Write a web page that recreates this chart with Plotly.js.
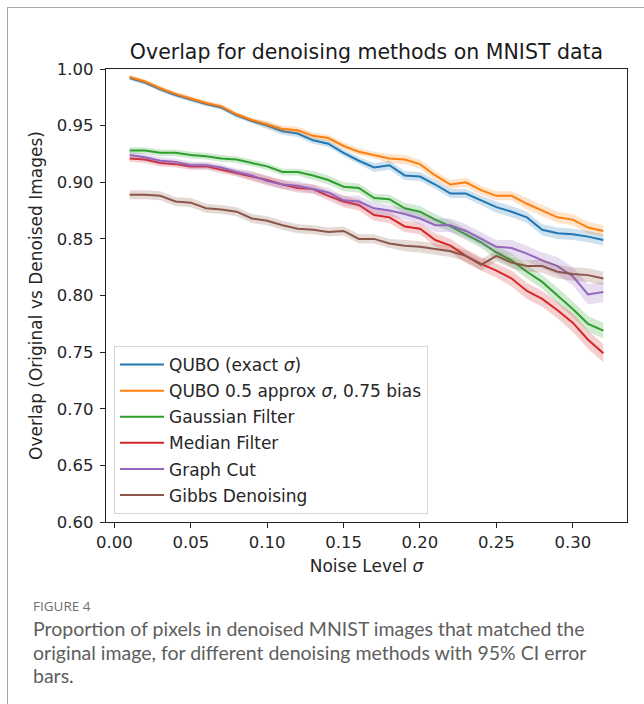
<!DOCTYPE html>
<html>
<head>
<meta charset="utf-8">
<script src="https://cdn.plot.ly/plotly-3.0.1.min.js"></script>
<style>
  html, body { margin: 0; padding: 0; background: #fff; width: 644px; height: 704px; overflow: hidden; }
  #card { position: absolute; left: 7px; top: 7px; width: 800px; height: 800px; border-left: 1.5px solid #a6a6a6; border-top: 1.5px solid #a6a6a6; }
  #chart { position: absolute; left: 0; top: 0; width: 644px; height: 704px; }
  #figlabel { position: absolute; left: 33px; top: 597px; font-family: "Open Sans", Lato, sans-serif; font-size: 13.5px; color: #6e6e6e; }
  #caption { position: absolute; left: 33px; top: 617px; width: 610px; font-family: Lato, "Open Sans", sans-serif; font-size: 19.5px; line-height: 23.5px; color: #5e5e5e; white-space: nowrap; }
</style>
</head>
<body>
<div id="card"></div>
<div id="chart"></div>
<div id="figlabel">FIGURE 4</div>
<div id="caption">Proportion of pixels in denoised MNIST images that matched the<br>original image, for different denoising methods with 95% CI error<br>bars.</div>
<script>
const noise = [0.01,0.02,0.03,0.04,0.05,0.06,0.07,0.08,0.09,0.10,0.11,0.12,0.13,0.14,0.15,0.16,
               0.17,0.18,0.19,0.20,0.21,0.22,0.23,0.24,0.25,0.26,0.27,0.28,0.29,0.30,0.31,0.32];

const quboExact = [0.992,0.988,0.982,0.977,0.973,0.969,0.966,0.959,0.954,0.950,0.945,0.943,0.937,0.934,0.926,0.919,
                   0.913,0.915,0.906,0.905,0.898,0.890,0.890,0.884,0.878,0.874,0.869,0.858,0.855,0.854,0.852,0.849];
const quboExactErr = [0.002,0.002,0.002,0.002,0.002,0.002,0.002,0.002,0.002,0.003,0.003,0.003,0.003,0.003,0.003,0.003,
                      0.004,0.004,0.004,0.004,0.004,0.004,0.004,0.004,0.005,0.005,0.005,0.005,0.005,0.005,0.005,0.005];

const quboApprox = [0.993,0.989,0.983,0.978,0.974,0.970,0.967,0.960,0.955,0.951,0.947,0.946,0.941,0.939,0.932,0.927,
                    0.924,0.921,0.920,0.916,0.906,0.898,0.900,0.893,0.888,0.888,0.881,0.875,0.869,0.867,0.860,0.857];
const quboApproxErr = [0.002,0.002,0.002,0.002,0.002,0.002,0.002,0.002,0.002,0.003,0.003,0.003,0.003,0.003,0.003,0.003,
                       0.003,0.004,0.004,0.004,0.004,0.004,0.004,0.004,0.004,0.004,0.005,0.005,0.005,0.005,0.005,0.005];

const gaussian = [0.928,0.928,0.926,0.926,0.924,0.923,0.921,0.920,0.917,0.914,0.909,0.909,0.906,0.902,0.896,0.895,
                  0.886,0.885,0.877,0.874,0.867,0.861,0.854,0.847,0.838,0.831,0.821,0.812,0.800,0.788,0.775,0.769];
const gaussianErr = [0.003,0.003,0.003,0.003,0.003,0.003,0.003,0.003,0.003,0.003,0.003,0.003,0.004,0.004,0.004,0.004,
                     0.004,0.004,0.005,0.005,0.005,0.005,0.005,0.005,0.006,0.006,0.006,0.006,0.007,0.007,0.007,0.007];

const median = [0.921,0.920,0.917,0.916,0.914,0.914,0.911,0.908,0.905,0.902,0.898,0.895,0.894,0.888,0.883,0.880,
                0.871,0.869,0.861,0.859,0.849,0.844,0.835,0.828,0.822,0.815,0.804,0.797,0.787,0.776,0.761,0.749];
const medianErr = [0.003,0.003,0.003,0.003,0.003,0.003,0.003,0.003,0.004,0.004,0.004,0.004,0.004,0.004,0.005,0.005,
                   0.005,0.005,0.005,0.005,0.006,0.006,0.006,0.006,0.006,0.007,0.007,0.007,0.007,0.008,0.008,0.008];

const graphCut = [0.924,0.922,0.919,0.918,0.915,0.915,0.913,0.909,0.906,0.901,0.898,0.897,0.894,0.891,0.884,0.883,
                  0.877,0.875,0.872,0.868,0.862,0.862,0.857,0.850,0.843,0.842,0.837,0.831,0.826,0.817,0.801,0.803];
const graphCutErr = [0.003,0.003,0.003,0.003,0.003,0.003,0.003,0.003,0.004,0.004,0.004,0.004,0.004,0.004,0.004,0.005,
                     0.005,0.005,0.005,0.005,0.006,0.006,0.006,0.006,0.006,0.007,0.007,0.007,0.008,0.008,0.009,0.009];

const gibbs = [0.889,0.889,0.888,0.883,0.882,0.877,0.876,0.874,0.868,0.866,0.862,0.859,0.858,0.856,0.857,0.850,
               0.850,0.846,0.844,0.843,0.841,0.839,0.835,0.827,0.835,0.829,0.826,0.826,0.821,0.819,0.818,0.815];
const gibbsErr = [0.004,0.004,0.004,0.004,0.004,0.004,0.004,0.004,0.004,0.004,0.004,0.004,0.004,0.004,0.004,0.004,
                  0.004,0.004,0.005,0.005,0.005,0.005,0.005,0.005,0.005,0.005,0.005,0.006,0.006,0.006,0.006,0.006];

const seriesNames = ["QUBO (exact <i>σ</i>)", "QUBO 0.5 approx <i>σ</i>, 0.75 bias", "Gaussian Filter",
                     "Median Filter", "Graph Cut", "Gibbs Denoising"];
const seriesValues = [quboExact, quboApprox, gaussian, median, graphCut, gibbs];
const seriesErrors = [quboExactErr, quboApproxErr, gaussianErr, medianErr, graphCutErr, gibbsErr];
const colors = ["#1f77b4", "#ff7f0e", "#2ca02c", "#d62728", "#9467bd", "#8c564b"];
const bandColors = ["rgba(31,119,180,0.22)", "rgba(255,127,14,0.22)", "rgba(44,160,44,0.22)",
                    "rgba(214,39,40,0.22)", "rgba(148,103,189,0.22)", "rgba(140,86,75,0.22)"];

const traces = [];
seriesValues.forEach((vals, i) => {
  const err = seriesErrors[i];
  const g = "g" + i;
  traces.push({ x: noise, y: vals.map((v, k) => v + err[k]), mode: "lines", line: { width: 0, color: bandColors[i] },
                showlegend: false, hoverinfo: "skip", legendgroup: g });
  traces.push({ x: noise, y: vals.map((v, k) => v - err[k]), mode: "lines", line: { width: 0, color: bandColors[i] },
                fill: "tonexty", fillcolor: bandColors[i], showlegend: false, hoverinfo: "skip", legendgroup: g });
  traces.push({ x: noise, y: vals, mode: "lines", name: seriesNames[i], line: { color: colors[i], width: 2 },
                legendgroup: g });
});

const fontFam = "DejaVu Sans, sans-serif";
const layout = {
  width: 644, height: 704,
  paper_bgcolor: "rgba(0,0,0,0)", plot_bgcolor: "#ffffff",
  margin: { l: 106, r: 17, t: 69, b: 182 },
  font: { family: fontFam, size: 16, color: "#262626" },
  title: { text: "Overlap for denoising methods on MNIST data", font: { family: fontFam, size: 20.5, color: "#1a1a1a" },
           xref: "paper", x: 0.5, xanchor: "center", yref: "container", y: 1 - 52 / 704, yanchor: "middle" },
  xaxis: {
    range: [-0.0055, 0.3355], tickvals: [0, 0.05, 0.10, 0.15, 0.20, 0.25, 0.30], tickformat: ".2f",
    ticks: "outside", ticklen: 5, tickcolor: "#222", showline: true, mirror: true, linecolor: "#222", linewidth: 1.2,
    showgrid: false, zeroline: false, tickfont: { size: 16.5 },
    title: { text: "Noise Level <i>σ</i>", font: { size: 17 }, standoff: 9 }
  },
  yaxis: {
    range: [0.60, 1.00], tickvals: [0.60, 0.65, 0.70, 0.75, 0.80, 0.85, 0.90, 0.95, 1.00], tickformat: ".2f",
    ticks: "outside", ticklen: 5, tickcolor: "#222", showline: true, mirror: true, linecolor: "#222", linewidth: 1.2,
    showgrid: false, zeroline: false, tickfont: { size: 16.5 }, ticklabelstandoff: 3,
    title: { text: "Overlap (Original vs Denoised Images)", font: { size: 17 }, standoff: 9 }
  },
  showlegend: true,
  legend: {
    x: 8 / 521, xanchor: "left", y: (522 - 346) / 453, yanchor: "top",
    bgcolor: "rgba(255,255,255,0.85)", bordercolor: "#d6d6d6", borderwidth: 1, itemwidth: 44,
    font: { family: fontFam, size: 17, color: "#262626" }, tracegroupgap: 1, traceorder: "grouped"
  }
};

Plotly.newPlot("chart", traces, layout, { displayModeBar: false, staticPlot: true });
</script>
</body>
</html>
